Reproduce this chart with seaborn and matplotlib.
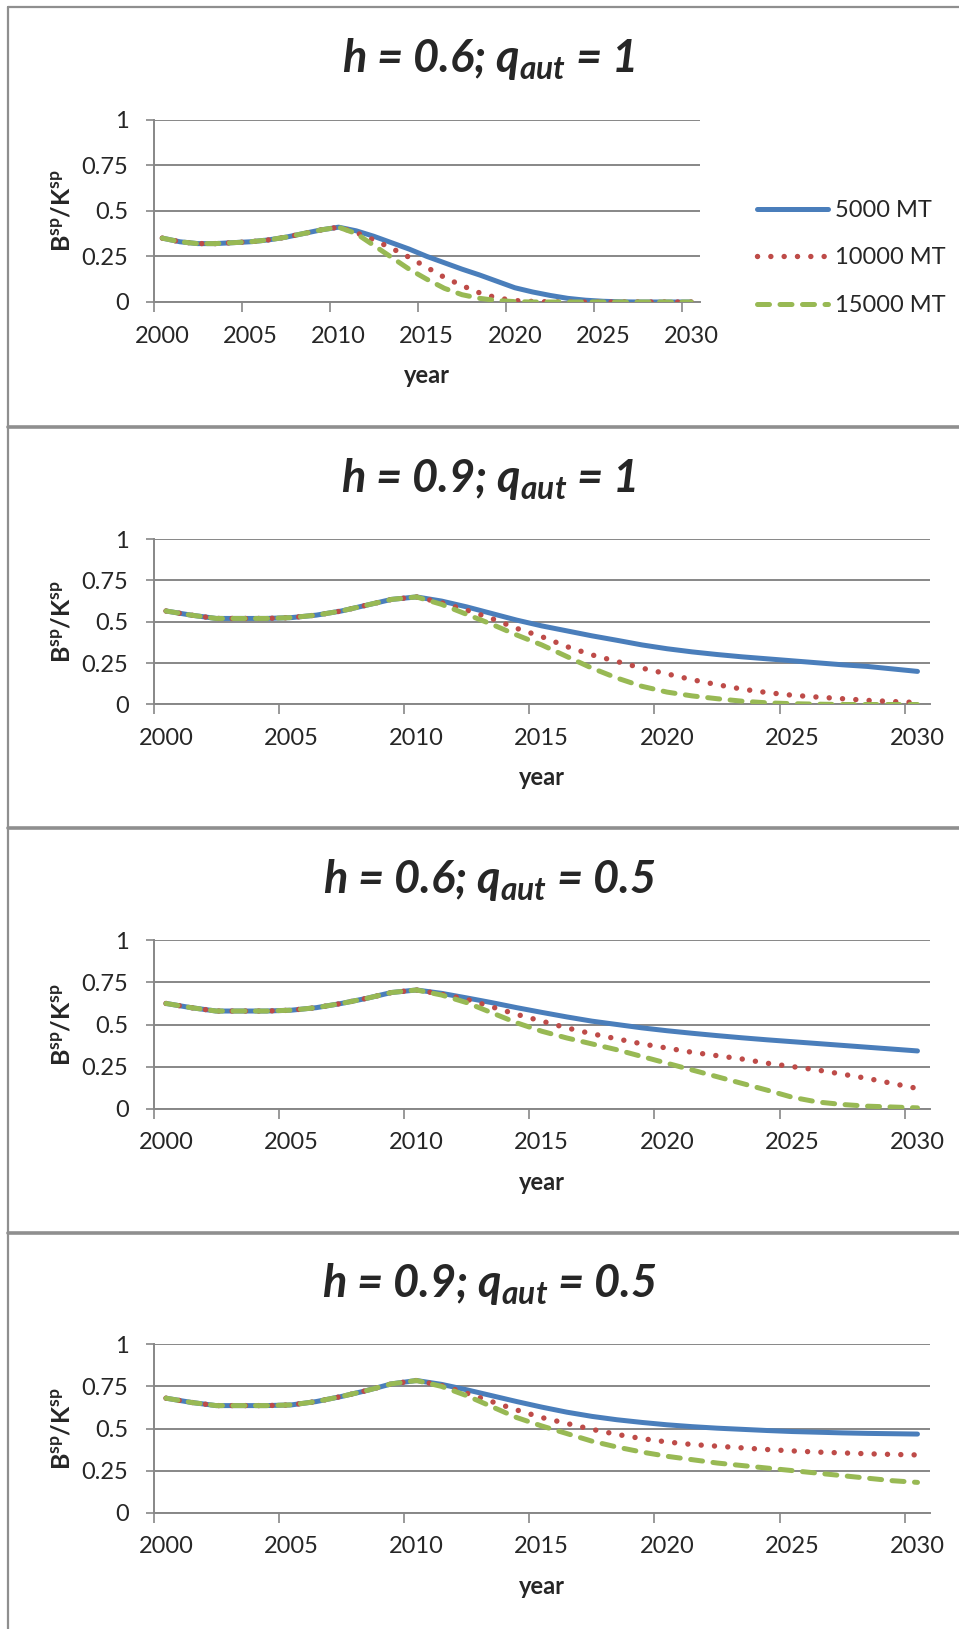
import matplotlib
matplotlib.use("Agg")
import matplotlib.pyplot as plt
from matplotlib.lines import Line2D
import seaborn as sns
import pandas as pd
import numpy as np

# ---------------- data ----------------
years = list(range(2000, 2031))
series_names = ["5000 MT", "10000 MT", "15000 MT"]
panel_titles = [r"h = 0.6; q$_{aut}$ = 1",
                r"h = 0.9; q$_{aut}$ = 1",
                r"h = 0.6; q$_{aut}$ = 0.5",
                r"h = 0.9; q$_{aut}$ = 0.5"]
xtick_labels = ["2000", "2005", "2010", "2015", "2020", "2025", "2030"]
ytick_labels = ["0", "0.25", "0.5", "0.75", "1"]

# panel 1: h = 0.6, q_aut = 1
p1_pre = [0.35, 0.33, 0.32, 0.32, 0.325, 0.33, 0.34, 0.355, 0.375, 0.395, 0.41]
p1_5000 = p1_pre + [0.39, 0.36, 0.325, 0.29, 0.25, 0.215, 0.18, 0.148, 0.113, 0.078,
                    0.055, 0.036, 0.02, 0.01, 0.004, 0.001, 0.0, 0.0, 0.0, 0.0]
p1_10000 = p1_pre + [0.38, 0.34, 0.295, 0.245, 0.19, 0.135, 0.09, 0.05, 0.022, 0.008,
                     0.003, 0.001, 0.0, 0.0, 0.0, 0.0, 0.0, 0.0, 0.0, 0.0]
p1_15000 = p1_pre + [0.375, 0.31, 0.245, 0.18, 0.125, 0.075, 0.04, 0.02, 0.008, 0.002,
                     0.0, 0.0, 0.0, 0.0, 0.0, 0.0, 0.0, 0.0, 0.0, 0.0]

# panel 2: h = 0.9, q_aut = 1
p2_pre = [0.565, 0.54, 0.52, 0.52, 0.52, 0.525, 0.54, 0.565, 0.60, 0.635, 0.65]
p2_5000 = p2_pre + [0.625, 0.59, 0.55, 0.51, 0.475, 0.445, 0.415, 0.388, 0.36, 0.337,
                    0.318, 0.302, 0.288, 0.276, 0.264, 0.252, 0.24, 0.23, 0.215, 0.20]
p2_10000 = p2_pre + [0.615, 0.57, 0.52, 0.46, 0.41, 0.35, 0.30, 0.26, 0.22, 0.185,
                     0.15, 0.12, 0.093, 0.072, 0.056, 0.045, 0.035, 0.025, 0.018, 0.012]
p2_15000 = p2_pre + [0.605, 0.545, 0.485, 0.42, 0.36, 0.29, 0.22, 0.16, 0.11, 0.075,
                     0.052, 0.035, 0.02, 0.01, 0.005, 0.002, 0.0, 0.0, 0.0, 0.0]

# panel 3: h = 0.6, q_aut = 0.5
p3_pre = [0.625, 0.60, 0.58, 0.58, 0.58, 0.585, 0.60, 0.625, 0.655, 0.69, 0.705]
p3_5000 = p3_pre + [0.685, 0.658, 0.63, 0.60, 0.572, 0.545, 0.52, 0.50, 0.48, 0.463,
                    0.448, 0.434, 0.421, 0.409, 0.398, 0.387, 0.376, 0.365, 0.354, 0.343]
p3_10000 = p3_pre + [0.68, 0.65, 0.605, 0.56, 0.52, 0.48, 0.445, 0.415, 0.385, 0.36,
                     0.335, 0.315, 0.295, 0.27, 0.25, 0.23, 0.205, 0.18, 0.15, 0.12]
p3_15000 = p3_pre + [0.675, 0.63, 0.57, 0.51, 0.46, 0.42, 0.385, 0.35, 0.31, 0.27,
                     0.23, 0.19, 0.15, 0.11, 0.068, 0.04, 0.025, 0.015, 0.01, 0.005]

# panel 4: h = 0.9, q_aut = 0.5
p4_pre = [0.68, 0.655, 0.636, 0.636, 0.636, 0.64, 0.66, 0.69, 0.725, 0.765, 0.785]
p4_5000 = p4_pre + [0.762, 0.73, 0.695, 0.66, 0.627, 0.597, 0.572, 0.552, 0.536, 0.522,
                    0.511, 0.502, 0.495, 0.488, 0.482, 0.478, 0.474, 0.471, 0.469, 0.467]
p4_10000 = p4_pre + [0.755, 0.71, 0.66, 0.61, 0.565, 0.53, 0.495, 0.465, 0.44, 0.42,
                     0.405, 0.395, 0.385, 0.375, 0.367, 0.36, 0.355, 0.35, 0.346, 0.343]
p4_15000 = p4_pre + [0.75, 0.695, 0.63, 0.565, 0.515, 0.47, 0.425, 0.39, 0.36, 0.335,
                     0.315, 0.295, 0.28, 0.265, 0.25, 0.235, 0.22, 0.205, 0.19, 0.18]

panels = [(p1_5000, p1_10000, p1_15000),
          (p2_5000, p2_10000, p2_15000),
          (p3_5000, p3_10000, p3_15000),
          (p4_5000, p4_10000, p4_15000)]

# ---------------- style ----------------
sns.set_style("white")
plt.rcParams["font.family"] = ["Lato", "DejaVu Sans"]
plt.rcParams["mathtext.fontset"] = "custom"
plt.rcParams["mathtext.rm"] = "Lato:bold:italic"
plt.rcParams["mathtext.it"] = "Lato:bold:italic"
plt.rcParams["mathtext.bf"] = "Lato:bold"

W, H = 959, 1629
fig = plt.figure(figsize=(W / 100, H / 100), dpi=100)
fig.patch.set_facecolor("white")

colors = ["#4A7EBB", "#BE4B48", "#98B954"]
widths = [3.6, 3.9, 3.6]
styles = ["-", (0, (0.01, 2.45)), (0, (2.4, 2.1))]
GRID = "#878787"

# axes rectangles in pixels: left, right, top, bottom
rects = [(153.5, 700, 119.5, 302),
         (153.5, 930, 539, 704.5),
         (153.5, 930, 940.3, 1108.7),
         (153.5, 930, 1344.3, 1512.7)]

idx = np.arange(len(years))
tick_pos = [years.index(int(t)) for t in xtick_labels]

for k, (vals, (l, r, t, b)) in enumerate(zip(panels, rects)):
    ax = fig.add_axes([l / W, 1 - b / H, (r - l) / W, (b - t) / H])
    for name, v, c, ls, w in zip(series_names, vals, colors, styles, widths):
        df = pd.DataFrame({"i": idx, "v": v})
        sns.lineplot(data=df, x="i", y="v", ax=ax, color=c, lw=w, linestyle=ls,
                     errorbar=None, label=name, legend=False,
                     dash_capstyle="round", solid_capstyle="round", zorder=3)
    ax.set_xlim(-0.5, len(years) - 0.5)
    ax.set_ylim(0, 1)
    # y axis
    ax.set_yticks([0, 0.25, 0.5, 0.75, 1.0])
    ax.set_yticklabels(ytick_labels)
    ax.yaxis.grid(True, color=GRID, lw=1.4, zorder=0)
    ax.xaxis.grid(False)
    ax.tick_params(axis="y", which="major", direction="out", length=6, width=1.2,
                   color=GRID, pad=12, labelsize=17, left=True)
    # x axis: tick marks on category boundaries, labels at category centres
    ax.set_xticks([p - 0.5 for p in tick_pos])
    ax.set_xticklabels([""] * len(tick_pos))
    ax.set_xticks(tick_pos, minor=True)
    ax.set_xticklabels(xtick_labels, minor=True)
    ax.tick_params(axis="x", which="major", direction="out", length=7, width=1.2,
                   color=GRID, bottom=True)
    ax.tick_params(axis="x", which="minor", length=0, pad=17, labelsize=17, bottom=True)
    for s in ["top", "right"]:
        ax.spines[s].set_visible(False)
    for s in ["left", "bottom"]:
        ax.spines[s].set_color(GRID)
        ax.spines[s].set_linewidth(1.4)
    ax.spines["bottom"].set_zorder(1)
    ax.set_xlabel("")
    ax.set_ylabel("")
    ax.set_facecolor("white")

    # titles and labels
    fig.text(489 / W, 1 - (t - 47.5) / H, panel_titles[k], ha="center", va="baseline",
             fontsize=32.5, fontweight="bold", fontstyle="italic")
    fig.text(((l + r) / 2) / W, 1 - (b + 81) / H, "year", ha="center", va="baseline",
             fontsize=17, fontweight="bold")
    fig.text(62 / W, 1 - ((t + b) / 2) / H, r"$\mathbf{B^{sp}/K^{sp}}$", rotation=90,
             ha="center", va="center", fontsize=18)

    if k == 0:
        handles = [Line2D([], [], color=c, lw=w, linestyle=ls, dash_capstyle="round",
                          solid_capstyle="round")
                   for c, ls, w in zip(colors, styles, widths)]
        leg = ax.legend(handles, series_names, loc="center left",
                        bbox_to_anchor=(757 / W, 1 - 258 / H),
                        bbox_transform=fig.transFigure, frameon=False, fontsize=17,
                        handlelength=3.0, handletextpad=0.3, labelspacing=1.12,
                        borderpad=0, borderaxespad=0)

# panel borders
BC = "#8f8f8f"
fig.add_artist(Line2D([8 / W, 8 / W], [0, 1 - 7 / H], color=BC, lw=1.6,
                      transform=fig.transFigure))
fig.add_artist(Line2D([8 / W, 1], [1 - 7 / H, 1 - 7 / H], color=BC, lw=1.6,
                      transform=fig.transFigure))
for y in [426.5, 828, 1232.5]:
    fig.add_artist(Line2D([8 / W, 1], [1 - y / H, 1 - y / H], color=BC, lw=2.6,
                          transform=fig.transFigure))

fig.savefig("out.png", dpi=100, facecolor="white")
